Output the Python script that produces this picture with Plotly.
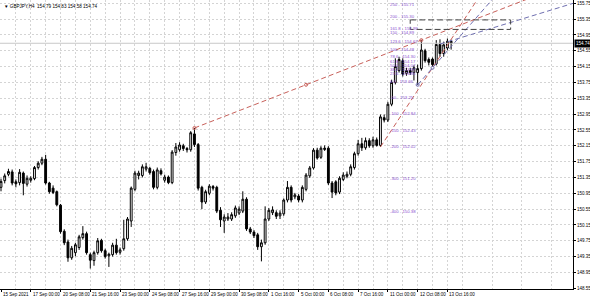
import plotly.graph_objects as go

# ---------------- data (GBPJPY H4) ----------------
bars = list(range(122))
open_ = [151.10,151.27,151.43,151.49,151.24,151.22,151.46,151.18,151.28,151.32,
         151.60,151.71,151.81,151.21,151.08,150.99,150.65,149.99,149.72,149.32,
         149.45,149.58,149.83,149.93,149.40,149.25,149.45,149.76,149.50,149.37,
         149.40,149.64,149.46,149.55,149.80,150.25,151.05,151.40,151.40,151.56,
         151.58,151.50,151.10,151.52,151.28,151.36,151.22,151.98,152.05,152.15,
         152.08,152.05,152.45,152.18,151.10,150.73,150.95,151.12,151.10,150.52,
         150.25,150.30,150.30,150.38,150.45,150.50,150.80,150.05,149.97,149.90,
         149.60,149.70,150.30,150.46,150.46,150.38,150.43,150.78,151.10,150.86,
         150.88,150.78,151.05,151.39,151.59,152.04,151.86,152.09,152.09,151.21,
         151.24,150.98,151.30,151.38,151.43,151.60,151.95,152.20,152.10,152.28,
         152.15,152.30,152.16,152.86,152.80,153.20,153.75,154.05,154.30,153.98,
         154.05,154.00,154.00,154.10,154.55,154.33,154.34,154.22,154.71,154.48,
         154.62,154.79]
high = [151.32,151.45,151.57,151.55,151.30,151.56,151.50,151.40,151.38,151.64,
        151.76,151.87,151.92,151.24,151.15,151.02,150.68,150.04,149.78,149.62,
        149.70,149.90,150.12,149.98,149.45,149.50,149.82,149.80,149.55,149.45,
        149.70,149.80,149.58,150.28,150.35,151.12,151.52,151.52,151.68,151.72,
        151.62,151.55,151.60,151.58,151.42,151.40,152.04,152.22,152.24,152.20,
        152.12,152.52,152.60,152.22,151.14,151.04,151.18,151.16,151.14,150.60,
        150.42,150.45,150.47,150.64,150.62,151.00,150.85,150.10,150.02,149.95,
        149.78,150.62,150.58,150.62,150.52,150.52,150.82,151.26,151.15,150.96,
        150.93,151.15,151.46,151.64,152.09,152.10,152.14,152.16,152.14,151.26,
        151.28,151.38,151.48,151.50,151.68,152.00,152.30,152.35,152.36,152.34,
        152.38,152.36,152.94,152.94,153.26,153.82,154.36,154.40,154.36,154.12,
        154.12,154.18,154.20,154.82,154.60,154.38,154.38,154.82,154.84,154.78,
        154.86,154.83]
low = [151.00,151.20,151.38,151.15,151.10,151.15,150.90,151.12,151.22,151.28,
       151.55,151.66,151.17,150.94,150.93,150.62,149.93,149.64,149.22,149.27,
       149.36,149.52,149.78,149.40,149.05,149.12,149.40,149.45,149.30,149.09,
       149.35,149.40,149.40,149.50,149.75,150.10,151.00,151.30,151.35,151.50,
       151.42,151.05,151.05,151.40,151.22,151.18,151.18,151.90,152.00,152.02,
       151.98,152.00,152.12,151.02,150.55,150.68,150.90,151.02,150.45,150.10,
       149.95,150.25,150.25,150.33,150.40,150.45,150.00,149.92,149.82,149.52,
       149.23,149.65,150.25,150.40,150.30,150.30,150.38,150.72,150.72,150.80,
       150.72,150.72,151.00,151.34,151.55,151.80,151.82,152.02,151.16,150.83,
       150.90,150.93,151.26,151.33,151.38,151.55,151.90,152.02,152.05,152.10,
       152.10,152.13,152.12,152.74,152.75,153.15,153.70,154.00,153.90,153.92,
       153.94,153.80,153.69,154.05,154.25,154.18,154.15,154.18,154.40,154.40,
       154.56,154.58]
close = [151.25,151.39,151.50,151.21,151.19,151.48,151.20,151.33,151.33,151.60,
         151.71,151.81,151.21,150.99,150.97,150.66,149.98,149.70,149.32,149.56,
         149.65,149.85,149.93,149.45,149.26,149.45,149.75,149.50,149.35,149.41,
         149.64,149.45,149.52,149.80,150.30,151.08,151.46,151.46,151.62,151.62,
         151.47,151.10,151.54,151.44,151.36,151.22,151.99,152.12,152.17,152.08,
         152.05,152.48,152.18,151.08,150.73,150.99,151.13,151.08,150.50,150.28,
         150.35,150.35,150.41,150.58,150.55,150.80,150.05,149.97,149.88,149.60,
         149.70,150.30,150.52,150.53,150.37,150.45,150.78,151.10,150.78,150.91,
         150.78,151.10,151.41,151.59,152.04,151.84,152.09,152.06,151.21,150.98,
         150.96,151.33,151.41,151.43,151.62,151.95,152.20,152.10,152.28,152.15,
         152.30,152.16,152.88,152.80,153.20,153.75,154.15,154.33,153.96,154.05,
         154.00,154.12,154.10,154.57,154.30,154.26,154.20,154.71,154.48,154.70,
         154.79,154.74]

label_bars = [0, 8, 16, 24, 32, 40, 48, 56, 64, 72, 80, 88, 96, 104, 112, 120]
label_text = ["15 Sep 2021", "17 Sep 00:00", "20 Sep 08:00", "21 Sep 16:00",
              "23 Sep 00:00", "24 Sep 08:00", "27 Sep 16:00", "29 Sep 00:00",
              "30 Sep 08:00", "1 Oct 16:00", "5 Oct 00:00", "6 Oct 08:00",
              "7 Oct 16:00", "11 Oct 00:00", "12 Oct 08:00", "13 Oct 16:00"]
grid_bars = list(range(4, 156, 8))

price_ticks = [155.75, 155.35, 154.95, 154.55, 154.15, 153.75, 153.35, 152.95,
               152.55, 152.15, 151.75, 151.35, 150.95, 150.55, 150.15, 149.75,
               149.35, 148.95, 148.55]

# Fibonacci expansion labels
fib_levels = ["250", "200", "161.8", "150", "123.6", "100", "78.6", "61.8", "50.0",
              "38.2", "23.6", "0.0", "-50", "-100", "-150", "-200", "-300", "-400"]
fib_prices = [155.71, 155.30, 154.99, 154.89, 154.67, 154.48, 154.30, 154.17, 154.07,
              153.97, 153.85, 153.66, 153.25, 152.84, 152.43, 152.02, 151.20, 150.38]
fib_label_bar = 104

# trend lines: (bar0, price0, bar1, price1)
red_long = (52, 152.60, 113, 154.82)
red_steep = (102, 152.12, 112, 153.55)
blue_steep = (112, 153.69, 116, 154.12)
blue_flat = (118, 154.72, 150, 155.64)
box_bars = (110, 137)
box_prices = (155.09, 155.33)

last_price = 154.74
header = "\u25BC GBPJPY,H4  154.79 154.83 154.58 154.74"

# ---------------- figure ----------------
FONT = "Liberation Sans"
GRID = "#D4D4D4"
fig = go.Figure()

XMAX = 153.76
# current price line
fig.add_trace(go.Scatter(x=[-1, XMAX + 2], y=[last_price, last_price], mode="lines",
                         line=dict(color="#C8C8C8", width=1), hoverinfo="skip",
                         showlegend=False))

fig.add_trace(go.Candlestick(
    x=bars, open=open_, high=high, low=low, close=close,
    increasing=dict(line=dict(color="black", width=1), fillcolor="white"),
    decreasing=dict(line=dict(color="black", width=1), fillcolor="black"),
    whiskerwidth=0, showlegend=False, hoverinfo="skip"))


def ray(seg, color, dash):
    b0, p0, b1, p1 = seg
    slope = (p1 - p0) / (b1 - b0)
    bend = 170
    fig.add_trace(go.Scatter(x=[b0, bend], y=[p0, p0 + slope * (bend - b0)],
                             mode="lines", line=dict(color=color, width=1, dash=dash),
                             hoverinfo="skip", showlegend=False))


ray(red_long, "#C8605A", "5px,3px")
ray(red_steep, "#C8605A", "5px,3px")
ray(blue_steep, "#6F6FB0", "5px,3px")
ray(blue_flat, "#6F6FB0", "5px,3px")

# anchor markers
mid = 82
fig.add_trace(go.Scatter(x=[red_long[0], mid, red_long[2]],
                         y=[red_long[1],
                            red_long[1] + (red_long[3] - red_long[1]) * (mid - red_long[0]) / (red_long[2] - red_long[0]),
                            red_long[3]],
                         mode="markers", marker=dict(symbol="circle-open", size=3, color="#C8605A", line=dict(width=1)),
                         hoverinfo="skip", showlegend=False))
fig.add_trace(go.Scatter(x=[blue_steep[0], blue_steep[2]], y=[blue_steep[1], blue_steep[3]],
                         mode="markers", marker=dict(symbol="circle-open", size=3, color="#6F6FB0", line=dict(width=1)),
                         hoverinfo="skip", showlegend=False))

# dashed rectangle
fig.add_trace(go.Scatter(x=[box_bars[0], box_bars[1], box_bars[1], box_bars[0], box_bars[0]],
                         y=[box_prices[1], box_prices[1], box_prices[0], box_prices[0], box_prices[1]],
                         mode="lines", line=dict(color="#404040", width=1, dash="6px,3px"),
                         hoverinfo="skip", showlegend=False))

annotations = []
for lv, pr in zip(fib_levels, fib_prices):
    top = pr > 155.6
    annotations.append(dict(x=fib_label_bar, y=pr, xref="x", yref="y", text=f"{lv} - {pr:.2f}",
                            showarrow=False, xanchor="left",
                            yanchor="middle" if top else "bottom",
                            font=dict(family=FONT, size=4.3, color="#8A50D0")))
for b, t in zip(label_bars, label_text):
    annotations.append(dict(x=b, y=0, xref="x", yref="paper", text=t, showarrow=False,
                            xanchor="left", yanchor="top", yshift=-1,
                            font=dict(family=FONT, size=4.5, color="black")))
annotations.append(dict(x=0.004, y=1, xref="paper", yref="paper", text=header, showarrow=False,
                        xanchor="left", yanchor="top", yshift=-2,
                        font=dict(family=FONT, size=4.6, color="black")))
annotations.append(dict(x=1, y=last_price, xref="paper", yref="y", text=f"{last_price:.2f}",
                        showarrow=False, xanchor="left", yanchor="middle", xshift=1,
                        bgcolor="black", borderpad=1,
                        font=dict(family=FONT, size=4.5, color="white")))

fig.update_layout(
    width=590, height=298, margin=dict(l=0, r=17, t=0, b=9),
    paper_bgcolor="white", plot_bgcolor="white", showlegend=False,
    annotations=annotations,
    xaxis=dict(range=[-0.27, XMAX], tickvals=label_bars, ticks="outside", ticklen=2,
               tickcolor="black", showticklabels=False, showgrid=True,
               gridcolor=GRID, griddash="2px,2px", gridwidth=1,
               minor=dict(tickvals=grid_bars, showgrid=True, gridcolor=GRID,
                          griddash="2px,2px", gridwidth=1),
               showline=True, linecolor="black", linewidth=1, zeroline=False,
               rangeslider=dict(visible=False), fixedrange=True),
    yaxis=dict(range=[148.532, 155.833], side="right", tickvals=price_ticks,
               ticktext=[f"{p:.2f}" for p in price_ticks], ticks="outside", ticklen=2,
               tickcolor="black", tickfont=dict(family=FONT, size=4.5, color="black"),
               showgrid=True, gridcolor=GRID, griddash="2px,2px", gridwidth=1,
               showline=True, linecolor="black", linewidth=1, zeroline=False,
               fixedrange=True),
)

fig.write_html("out.html")
